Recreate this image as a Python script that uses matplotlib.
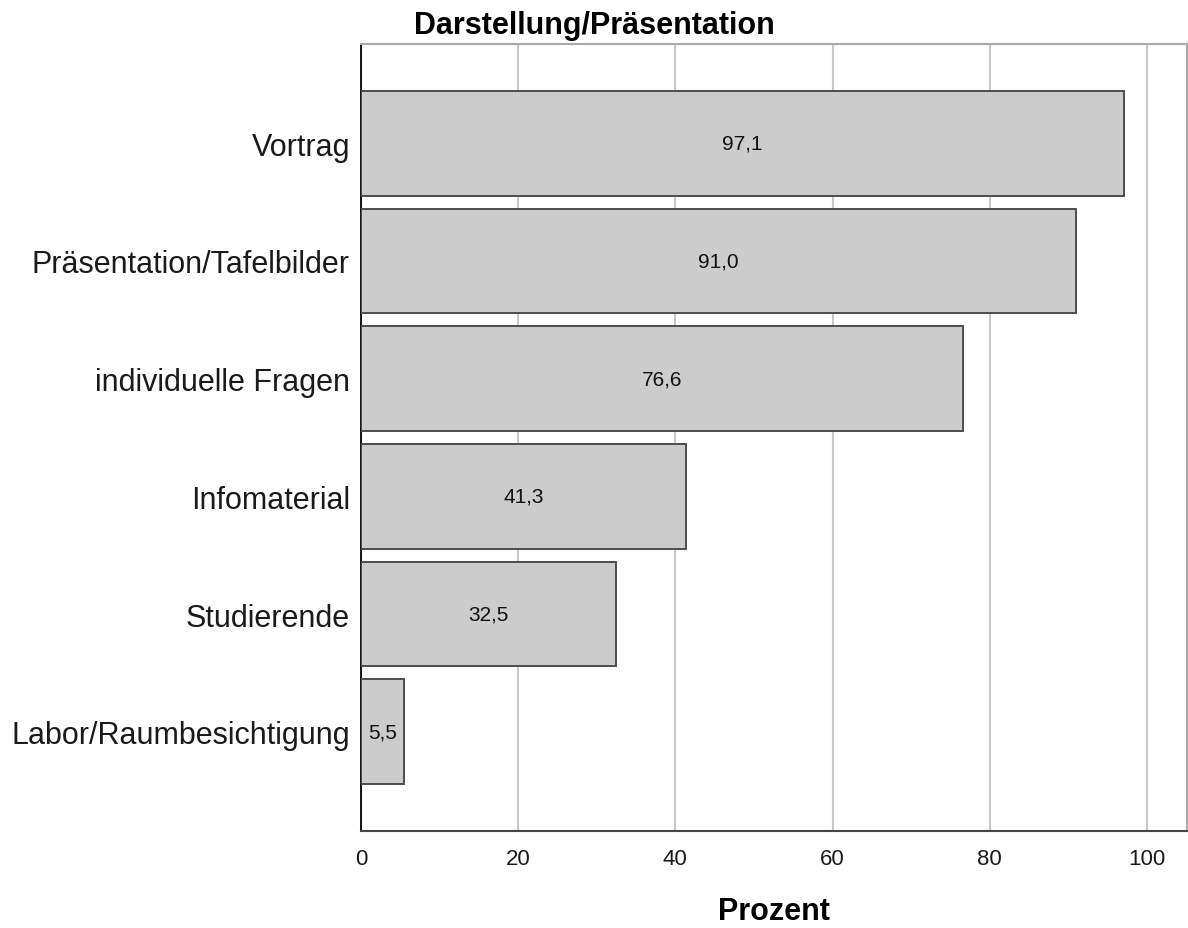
import numpy as np
import matplotlib
matplotlib.use("Agg")
import matplotlib.pyplot as plt

# data
categories = ["Vortrag", "Präsentation/Tafelbilder", "individuelle Fragen",
              "Infomaterial", "Studierende", "Labor/Raumbesichtigung"]
values = [97.1, 91.0, 76.6, 41.3, 32.5, 5.5]
xticks = [0, 20, 40, 60, 80, 100]

plt.rcParams["font.family"] = ["Liberation Sans", "DejaVu Sans"]

fig = plt.figure(figsize=(11.88, 9.29), dpi=100)
ax = fig.add_axes([361 / 1188, 1 - 832 / 929, (1187 - 361) / 1188, (832 - 45) / 929])

y = np.arange(len(categories))
ax.barh(y, values, height=0.89, color="#cccccc", edgecolor="#4d4d4d", linewidth=1.4, zorder=3)

for yi, v in zip(y, values):
    ax.text(v / 2, yi, f"{v:.1f}".replace(".", ","), ha="center", va="center",
            fontsize=15, color="#111111", zorder=4)

ax.set_xlim(0, 105.1)
ax.set_ylim(len(categories) - 1 + 0.844, -0.844)
ax.set_yticks(y)
ax.set_yticklabels(categories, fontsize=22, color="#1a1a1a")
ax.set_xticks(xticks)
ax.set_xticklabels([str(t) for t in xticks], fontsize=16, color="#1a1a1a")
ax.tick_params(axis="y", length=0, pad=8)
ax.tick_params(axis="x", length=0, pad=12)

ax.grid(axis="x", color="#c8c8c8", linewidth=1.5, zorder=0)
ax.set_axisbelow(True)

ax.spines["left"].set_color("black")
ax.spines["left"].set_linewidth(1.3)
ax.spines["bottom"].set_color("#444444")
ax.spines["bottom"].set_linewidth(1.5)
ax.spines["top"].set_color("#aaaaaa")
ax.spines["top"].set_linewidth(1.5)
ax.spines["right"].set_color("#aaaaaa")
ax.spines["right"].set_linewidth(1.5)

ax.set_xlabel("Prozent", fontsize=22, fontweight="bold", labelpad=20)
fig.text(0.5, 1 - 26 / 929, "Darstellung/Präsentation", ha="center", va="center",
         fontsize=22, fontweight="bold")

fig.savefig("out.png", dpi=100)
